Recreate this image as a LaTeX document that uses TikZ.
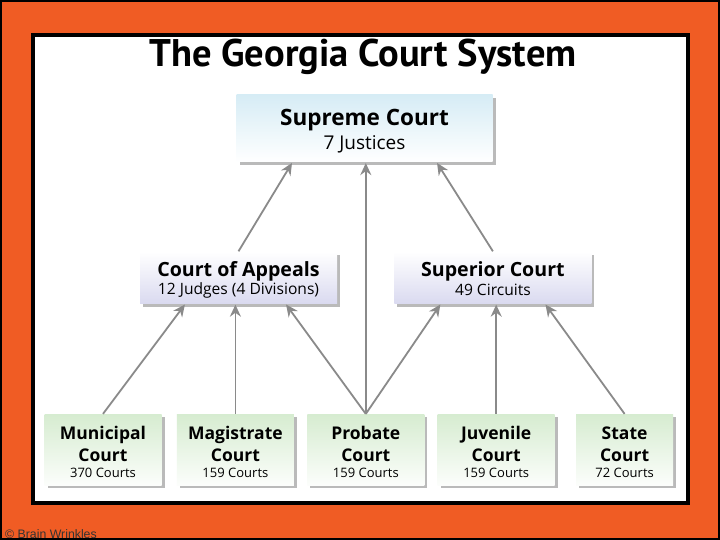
\documentclass[tikz,border=0pt]{standalone}
\usepackage{fontspec}
\setmainfont{Open Sans}
\newfontfamily\titlefont{PT Sans}
\newfontfamily\notefont{Liberation Sans}
\usetikzlibrary{arrows.meta,positioning,calc,shadows}

\definecolor{frameorange}{RGB}{240,92,36}
\definecolor{arrowgray}{RGB}{138,138,138}
\definecolor{topblue}{RGB}{214,236,245}
\definecolor{lowlilac}{RGB}{218,218,240}
\definecolor{topgreen}{RGB}{214,236,208}

\begin{document}
\begin{tikzpicture}[x=1pt,y=-1pt,>={Stealth[length=12pt,width=11pt,inset=4pt]},shorten >=1pt,
  court/.style={draw=none,align=center,inner sep=0pt,
    drop shadow={shadow xshift=3pt,shadow yshift=-3pt,opacity=0.45,fill=black!60}},
  high court/.style={court,top color=topblue,bottom color=white,
    minimum width=256pt,minimum height=67pt,
    font=\bfseries\fontsize{22.5}{24.4}\selectfont},
  mid court/.style={court,top color=white,bottom color=lowlilac,
    minimum width=197pt,minimum height=52pt,
    font=\bfseries\fontsize{19.6}{18.3}\selectfont},
  low court/.style={court,top color=topgreen,bottom color=white!92!topgreen,
    minimum width=117pt,minimum height=71pt,
    font=\bfseries\fontsize{17.5}{21.7}\selectfont},
  link/.style={->,draw=arrowgray,line width=1.8pt}]

  \useasboundingbox (0,0) rectangle (720,540);
  \fill[frameorange,draw=black,line width=2pt] (1,1) rectangle (719,539);
  \filldraw[fill=white,draw=black,line width=4pt] (33,35) rectangle (688,503);

  \node (0) at (363,67) [anchor=base]
    {\titlefont\bfseries\fontsize{38.5}{40}\selectfont The Georgia Court System};

  \node[high court] (1) at (364.5,128.4)
    {\rule{0pt}{22pt}Supreme Court\\ \mdseries\fontsize{19}{20}\selectfont 7 Justices};

  \node[mid court] (2) at (238.5,277.5)
    {\rule{0pt}{20.4pt}Court of Appeals\\
     \mdseries\fontsize{15.6}{16}\selectfont 12 Judges (4 Divisions)};
  \node[mid court] (3) [right=57pt of 2]
    {\rule{0pt}{17pt}Superior Court\\ \mdseries\fontsize{15.6}{16}\selectfont 49 Circuits};

  \node[low court] (4) at (103,449.6)
    {\rule{0pt}{18pt}Municipal\\ Court\\[-6.1pt] \mdseries\fontsize{13}{15}\selectfont 370 Courts};
  \node[low court] (5) [right=15pt of 4]
    {\rule{0pt}{18pt}Magistrate\\ Court\\[-6.1pt] \mdseries\fontsize{13}{15}\selectfont 159 Courts};
  \node[low court] (6) [right=13pt of 5]
    {\rule{0pt}{18pt}Probate\\ Court\\[-6.1pt] \mdseries\fontsize{13}{15}\selectfont 159 Courts};
  \node[low court] (7) [right=13pt of 6]
    {\rule{0pt}{18pt}Juvenile\\ Court\\[-6.1pt] \mdseries\fontsize{13}{15}\selectfont 159 Courts};
  \node[low court,minimum width=97pt] (8) [right=21pt of 7]
    {\rule{0pt}{18pt}State\\ Court\\[-6.1pt] \mdseries\fontsize{13}{15}\selectfont 72 Courts};

  \path[every edge/.style={link}]
    (2.north) edge ($(1.south)+(-72,0)$)
    (6.north) edge (6.north |- 1.south)
    (3.north) edge ($(1.south)+(72,0)$)
    (4.north) edge ($(2.south)+(-53,0)$)
    (5.north) edge (5.north |- 2.south)
    (6.north) edge ($(2.south)+(47,0)$)
    (6.north) edge ($(3.south)+(-52,0)$)
    (7.north) edge (7.north |- 3.south)
    (8.north) edge ($(3.south)+(52,0)$);

  \node (9) at (5,538) [anchor=base west,text=black!80,inner sep=0pt]
    {\notefont\fontsize{12.3}{13}\selectfont\textcopyright{} Brain Wrinkles};

\end{tikzpicture}
\end{document}
